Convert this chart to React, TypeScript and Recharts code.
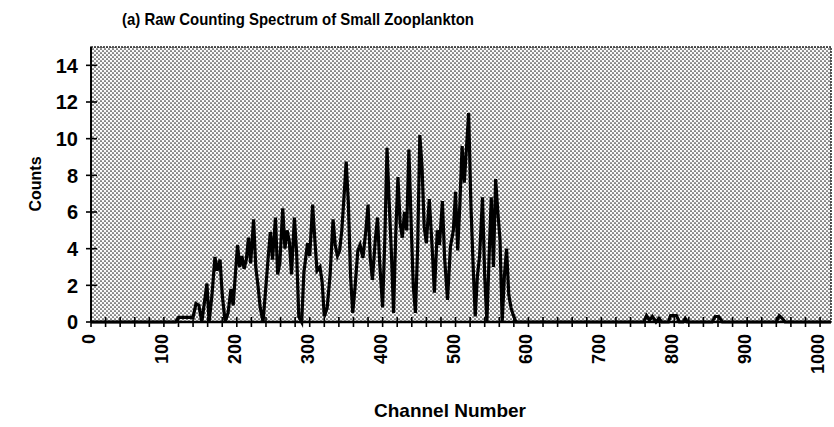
import React from 'react';
import { LineChart, Line, XAxis, YAxis, ReferenceArea } from 'recharts';

// Channel positions of the spectrum vertices (peaks and troughs)
const channels = [
  0, 116, 120, 140, 144, 148, 152, 156, 159, 162, 166, 170, 173, 177, 180, 184, 188, 192, 195, 198,
  201, 204, 207, 210, 213, 216, 219, 223, 226, 229, 232, 236, 240, 243, 246, 249, 253, 256, 259, 263,
  266, 269, 272, 275, 279, 282, 285, 289, 292, 297, 300, 304, 307, 310, 314, 317, 320, 324, 328, 332,
  335, 338, 341, 344, 347, 350, 353, 356, 359, 362, 366, 369, 373, 377, 380, 383, 386, 390, 393, 396,
  400, 403, 406, 409, 412, 415, 418, 421, 424, 427, 430, 433, 436, 439, 442, 445, 448, 451, 454, 457,
  460, 464, 468, 471, 475, 478, 482, 485, 489, 493, 497, 500, 503, 506, 509, 512, 515, 518, 521, 524,
  527, 530, 533, 537, 540, 543, 546, 549, 552, 555, 558, 561, 564, 567, 570, 573, 576, 579, 583, 758,
  762, 766, 770, 775, 779, 783, 792, 795, 803, 807, 812, 815, 818, 852, 856, 861, 866, 940, 944, 948,
  952, 1015,
];

// Counts recorded at each channel above
const counts = [
  0, 0, 0.25, 0.25, 1.0, 0.9, 0, 1.2, 2.1, 0, 1.5, 3.55, 2.8, 3.4, 1.5, 0, 0.5, 1.8, 0.9, 2.6,
  4.2, 3.0, 3.6, 2.9, 3.4, 4.6, 3.2, 5.6, 3.0, 2.0, 0.8, 0, 2.0, 3.5, 4.9, 3.4, 5.7, 2.6, 3.2, 6.2,
  4.0, 5.0, 4.4, 2.6, 5.7, 3.8, 0.3, 0, 2.7, 4.3, 3.6, 6.4, 4.5, 2.8, 3.0, 2.2, 0.3, 0.8, 2.6, 5.6,
  4.2, 3.6, 3.9, 5.0, 6.8, 8.75, 6.5, 2.5, 0.5, 1.8, 3.9, 4.2, 3.5, 5.0, 6.4, 3.5, 2.3, 4.5, 5.7, 3.2,
  0.8, 4.5, 9.5, 6.5, 3.8, 0.5, 4.8, 7.9, 5.4, 4.6, 6.0, 5.0, 9.4, 5.5, 2.0, 0.5, 4.0, 10.2, 8.5, 5.2,
  4.3, 6.7, 4.0, 1.6, 5.0, 4.2, 6.6, 3.5, 1.2, 4.1, 5.0, 7.1, 3.9, 6.5, 9.6, 7.6, 9.5, 11.4, 6.5, 3.2,
  0.3, 2.5, 3.6, 6.8, 2.5, 0, 3.5, 6.8, 3.0, 7.8, 6.0, 4.5, 0, 2.5, 4.0, 1.5, 0.8, 0.4, 0, 0,
  0.35, 0.1, 0.3, 0, 0.2, 0, 0, 0.35, 0.35, 0, 0, 0.2, 0, 0, 0.3, 0.3, 0, 0, 0.35, 0.2,
  0, 0,
];

const spectrum = channels.map((channel, i) => ({ channel, count: counts[i] }));

// Labelled channel ticks; unlabelled minor ticks fall every 20 channels
const xLabelTicks = [0, 100, 200, 300, 400, 500, 600, 700, 800, 900, 1000];
const xMinorStep = 20;
const xTicks: number[] = [];
for (let c = 0; c <= 1000; c += xMinorStep) xTicks.push(c);

const yTicks = [0, 2, 4, 6, 8, 10, 12, 14];

const FONT = '"Liberation Sans", Arial, Helvetica, sans-serif';

const XTick = (props: any) => {
  const { x, y, payload } = props;
  const v = payload.value as number;
  const labelled = xLabelTicks.includes(v);
  return (
    <g>
      <line x1={x} x2={x} y1={y - 5} y2={y + 5} stroke="#000" strokeWidth={1.6} />
      {labelled && (
        <text
          x={x + 4}
          y={y + 12}
          transform={`rotate(-90 ${x + 4} ${y + 12})`}
          textAnchor="end"
          fontFamily={FONT}
          fontWeight="bold"
          fontSize={18}
          fill="#000"
        >
          {v}
        </text>
      )}
    </g>
  );
};

const YTick = (props: any) => {
  const { x, y, payload } = props;
  return (
    <g>
      <line x1={x - 5} x2={x + 6} y1={y} y2={y} stroke="#000" strokeWidth={1.6} />
      <text
        x={x - 13}
        y={y}
        dy="0.36em"
        textAnchor="end"
        fontFamily={FONT}
        fontWeight="bold"
        fontSize={20}
        fill="#000"
      >
        {payload.value}
      </text>
    </g>
  );
};

export default function App() {
  return (
    <div style={{ position: 'absolute', left: 0, top: 0, width: 834, height: 427, background: '#fff' }}>
      <LineChart
        width={834}
        height={427}
        data={spectrum}
        margin={{ top: 47, right: 3, bottom: 0, left: 0 }}
      >
        <defs>
          <pattern id="halftone" width="4" height="4" patternUnits="userSpaceOnUse">
            <rect width="4" height="4" fill="#fafafa" />
            <circle cx="1" cy="1" r="0.85" fill="#2a2a2a" />
            <circle cx="3" cy="3" r="0.85" fill="#2a2a2a" />
          </pattern>
        </defs>
        <XAxis
          dataKey="channel"
          type="number"
          domain={[0, 1015]}
          ticks={xTicks}
          interval={0}
          tickSize={0}
          tickMargin={0}
          tickLine={false}
          axisLine={{ stroke: '#000', strokeWidth: 2.5 }}
          tick={<XTick />}
          height={105}
        />
        <YAxis
          type="number"
          domain={[0, 15]}
          ticks={yTicks}
          interval={0}
          width={91}
          tickSize={0}
          tickMargin={0}
          tickLine={false}
          axisLine={{ stroke: '#000', strokeWidth: 2 }}
          tick={<YTick />}
        />
        <ReferenceArea
          x1={0}
          x2={1015}
          y1={0}
          y2={15}
          fill="url(#halftone)"
          fillOpacity={1}
          stroke="#222"
          strokeWidth={1.5}
          strokeDasharray="2 1"
        />
        <Line
          type="linear"
          dataKey="count"
          stroke="#000"
          strokeWidth={3.2}
          dot={false}
          isAnimationActive={false}
        />
        <text
          x={122}
          y={25}
          textLength={352}
          lengthAdjust="spacingAndGlyphs"
          fontFamily={FONT}
          fontWeight="bold"
          fontSize={17}
          fill="#000"
        >
          (a) Raw Counting Spectrum of Small Zooplankton
        </text>
        <text
          x={450}
          y={417}
          textAnchor="middle"
          fontFamily={FONT}
          fontWeight="bold"
          fontSize={19}
          fill="#000"
        >
          Channel Number
        </text>
        <text
          x={41}
          y={184}
          transform="rotate(-90 41 184)"
          textAnchor="middle"
          fontFamily={FONT}
          fontWeight="bold"
          fontSize={16}
          fill="#000"
        >
          Counts
        </text>
      </LineChart>
    </div>
  );
}
